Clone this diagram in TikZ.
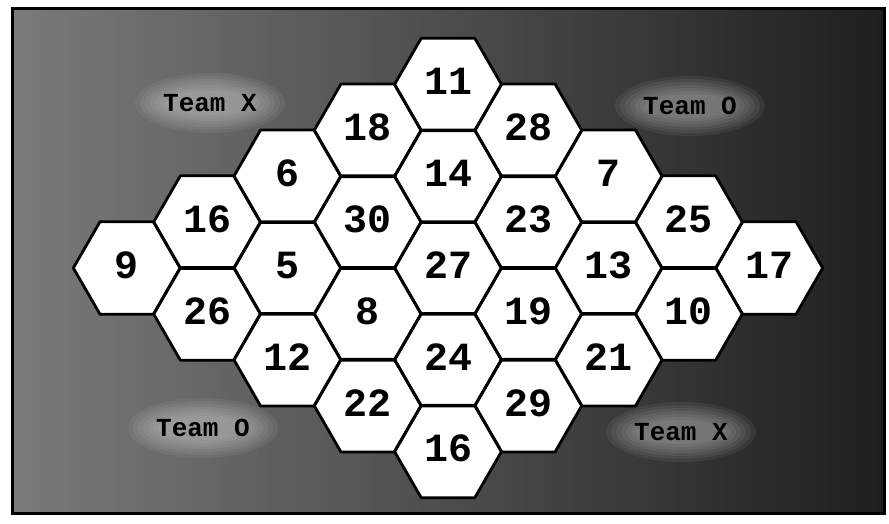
\documentclass[tikz,border=0pt]{standalone}
\usepackage{fontspec}
\newfontfamily\typefont{Liberation Mono}
\usetikzlibrary{shapes.geometric}
\begin{document}
\begin{tikzpicture}[x=1pt,y=-1pt,
  hexa/.style={regular polygon, regular polygon sides=6, minimum size=107pt,
    inner sep=0pt, outer sep=0pt, fill=white, text depth=6pt,
    font=\typefont\bfseries\fontsize{40}{40}\selectfont},
  hexline/.style={draw=black, line width=2.8pt, line join=round},
  team/.style={font=\typefont\bfseries\fontsize{26}{26}\selectfont, inner sep=0pt},
  glow/.style={fill=white, opacity=0.06}]
\useasboundingbox (0,0) rectangle (889,524);
\fill[white] (0,0) rectangle (889,524);
\shade[left color=black!52, right color=black!88] (12,9) rectangle (884,513);
\draw[line width=3pt] (12,9) rectangle (884,513);
% soft glows behind team labels
\foreach \gx/\gy in {210/103, 690/106, 203/428, 681/432}{
  \foreach \s in {1,...,7}{
    \fill[glow] (\gx,\gy) ellipse ({40+\s*5} and {9+\s*3});
  }
}
% team labels
\node[team] (tx1) at (210,103) {Team X};
\node[team] (to1) at (690,106) {Team O};
\node[team] (to2) at (203,428) {Team O};
\node[team] (tx2) at (681,432) {Team X};
% hexagons
\foreach \c/\k/\t/\n in {0/0/9/a,
  1/-1/16/b, 1/1/26/c,
  2/-2/6/d, 2/0/5/e, 2/2/12/f,
  3/-3/18/g, 3/-1/30/h, 3/1/8/i, 3/3/22/j,
  4/-4/11/k, 4/-2/14/l, 4/0/27/m, 4/2/24/n, 4/4/16/o,
  5/-3/28/p, 5/-1/23/q, 5/1/19/r, 5/3/29/s,
  6/-2/7/t, 6/0/13/u, 6/2/21/v,
  7/-1/25/w, 7/1/10/x,
  8/0/17/y}{
  \node[hexa] (h\n) at ({448+(\c-4)*80.3},{268+\k*45.875}) {\t};
}
\foreach \n in {a,b,c,d,e,f,g,h,i,j,k,l,m,n,o,p,q,r,s,t,u,v,w,x,y}{
  \draw[hexline] (h\n.corner 1) -- (h\n.corner 2) -- (h\n.corner 3) -- (h\n.corner 4) -- (h\n.corner 5) -- (h\n.corner 6) -- cycle;
}
\end{tikzpicture}
\end{document}
